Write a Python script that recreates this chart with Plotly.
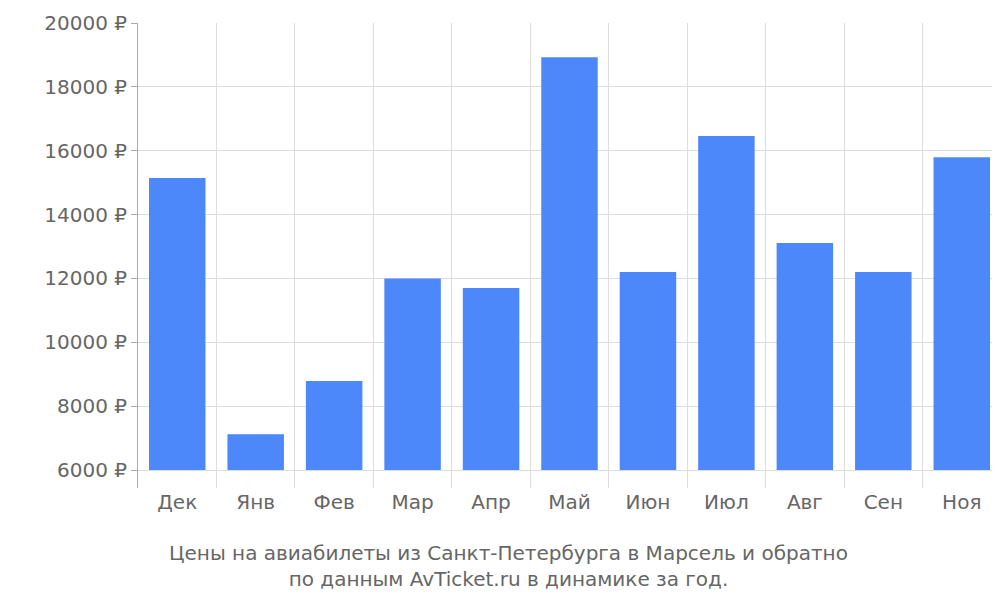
import plotly.graph_objects as go

months = ["Дек", "Янв", "Фев", "Мар", "Апр", "Май", "Июн", "Июл", "Авг", "Сен", "Ноя"]
prices = [15150, 7120, 8790, 12000, 11700, 18930, 12200, 16460, 13110, 12200, 15800]
base_price = 6000
tick_values = [6000, 8000, 10000, 12000, 14000, 16000, 18000, 20000]
tick_labels = [f"{v} ₽" for v in tick_values]

fig = go.Figure()
fig.add_trace(go.Bar(
    x=months,
    y=[p - base_price for p in prices],
    base=base_price,
    marker=dict(color="#4d88fb", line=dict(width=0)),
    width=0.72,
))

fig.update_layout(
    width=1000, height=600,
    margin=dict(l=130, r=7, t=15, b=120),
    plot_bgcolor="white", paper_bgcolor="white",
    font=dict(family="DejaVu Sans", size=20, color="#666666"),
    showlegend=False,
    xaxis=dict(
        tickson="boundaries", showgrid=True, gridcolor="#dddddd",
        ticks="outside", ticklen=0, showline=False,
        tickfont=dict(size=20), automargin=False,
    ),
    yaxis=dict(
        range=[5440, 20000], tickvals=tick_values, ticktext=tick_labels,
        showgrid=True, gridcolor="#dddddd", zeroline=False,
        showline=True, linecolor="#aaaaaa", ticks="outside", ticklen=6,
        tickcolor="#aaaaaa", tickfont=dict(size=20), automargin=False,
    ),
    bargap=0.28,
)

fig.add_annotation(
    x=0.5, y=-0.11, xref="paper", yref="paper", yanchor="top",
    xanchor="center",
    text="Цены на авиабилеты из Санкт-Петербурга в Марсель и обратно<br>по данным AvTicket.ru в динамике за год.",
    showarrow=False, font=dict(size=20, color="#666666"),
)
fig.update_annotations(xref="paper", x=(500 - 130) / 863)

fig.write_html("out.html")
